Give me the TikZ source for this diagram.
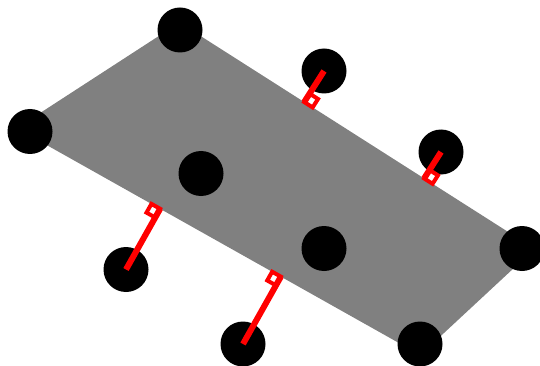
\documentclass[tikz,border=0pt]{standalone}
\usetikzlibrary{calc}

\tikzset{
    dot/.style={circle, fill=black, minimum size=45pt, inner sep=0pt},
    perp/.style={red, line width=6pt},
    foot/.style={red, line width=4pt}
}

\begin{document}
\begin{tikzpicture}[x=1pt,y=-1pt]
\useasboundingbox (0,0) rectangle (540,366);

% corners of the plate
\coordinate (pa) at (16.7,128.2);
\coordinate (pb) at (179.5,22.6);
\coordinate (pc) at (534.6,248.8);
\coordinate (pd) at (420.3,355.0);
\fill [gray] (pa) -- (pb) -- (pc) -- (pd) -- cycle;

% points on the plate
\node [dot] (a) at (30,131.5) {};
\node [dot] (b) at (180,30) {};
\node [dot] (c) at (522,248.5) {};
\node [dot] (d) at (420,344) {};
\node [dot] (m) at (201,173.5) {};
\node [dot] (n) at (324,248.5) {};

% points off the plate
\node [dot] (p) at (324,71) {};
\node [dot] (q) at (441,152) {};
\node [dot] (r) at (126,269.5) {};
\node [dot] (s) at (243,344) {};

% drop each one onto its side, with a square at the foot
\foreach \x/\ea/\eb in {p/pb/pc, q/pb/pc, r/pd/pa, s/pd/pa} {
    \coordinate (f\x) at ($(\ea)!(\x.center)!(\eb)$);
    \draw [perp] (\x.center) -- (f\x);
    \draw [foot] (f\x) -- ($(f\x)!10pt!(\eb)$)
        -- ($(f\x)!10pt!(\eb) + (f\x)!10pt!(\x.center) - (f\x)$)
        -- ($(f\x)!10pt!(\x.center)$) -- cycle;
}

\end{tikzpicture}
\end{document}
